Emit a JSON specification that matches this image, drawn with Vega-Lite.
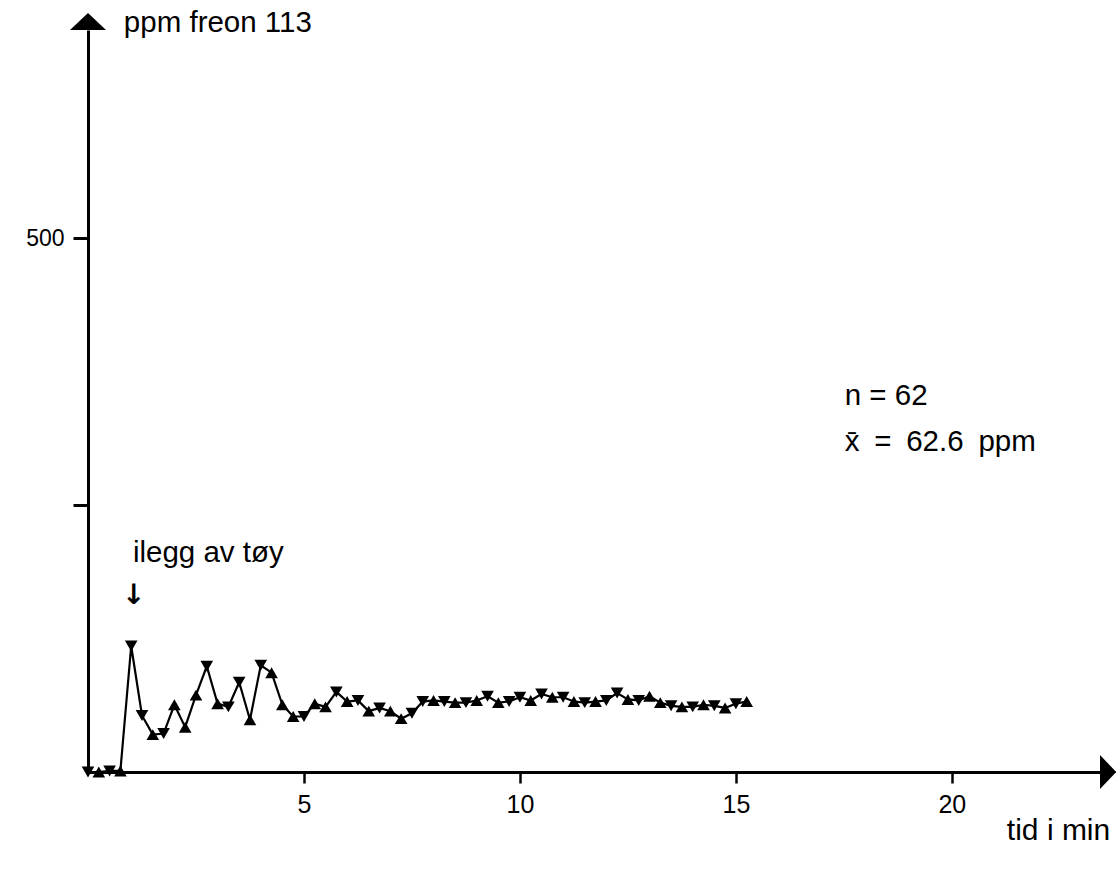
{
  "$schema": "https://vega.github.io/schema/vega-lite/v6.json",
  "width": 1012,
  "height": 742,
  "autosize": {"type": "none"},
  "padding": {"left": 88, "top": 30, "right": 16, "bottom": 98},
  "background": "white",
  "config": {"view": {"stroke": null}, "font": "Liberation Sans"},
  "datasets": {
    "maalinger": [
      {"t": 0.00, "ppm": 0, "m": "ned"},
      {"t": 0.25, "ppm": 0, "m": "opp"},
      {"t": 0.50, "ppm": 1, "m": "ned"},
      {"t": 0.75, "ppm": 1, "m": "opp"},
      {"t": 1.00, "ppm": 118, "m": "ned"},
      {"t": 1.25, "ppm": 53, "m": "ned"},
      {"t": 1.50, "ppm": 35, "m": "opp"},
      {"t": 1.75, "ppm": 36, "m": "ned"},
      {"t": 2.00, "ppm": 63, "m": "opp"},
      {"t": 2.25, "ppm": 42, "m": "opp"},
      {"t": 2.50, "ppm": 72, "m": "opp"},
      {"t": 2.75, "ppm": 99, "m": "ned"},
      {"t": 3.00, "ppm": 64, "m": "opp"},
      {"t": 3.25, "ppm": 61, "m": "ned"},
      {"t": 3.50, "ppm": 84, "m": "ned"},
      {"t": 3.75, "ppm": 49, "m": "opp"},
      {"t": 4.00, "ppm": 100, "m": "ned"},
      {"t": 4.25, "ppm": 93, "m": "opp"},
      {"t": 4.50, "ppm": 63, "m": "opp"},
      {"t": 4.75, "ppm": 52, "m": "opp"},
      {"t": 5.00, "ppm": 52, "m": "ned"},
      {"t": 5.25, "ppm": 64, "m": "opp"},
      {"t": 5.50, "ppm": 61, "m": "opp"},
      {"t": 5.75, "ppm": 75, "m": "ned"},
      {"t": 6.00, "ppm": 66, "m": "opp"},
      {"t": 6.25, "ppm": 67, "m": "ned"},
      {"t": 6.50, "ppm": 57, "m": "opp"},
      {"t": 6.75, "ppm": 60, "m": "ned"},
      {"t": 7.00, "ppm": 57, "m": "opp"},
      {"t": 7.25, "ppm": 50, "m": "opp"},
      {"t": 7.50, "ppm": 55, "m": "ned"},
      {"t": 7.75, "ppm": 66, "m": "ned"},
      {"t": 8.00, "ppm": 67, "m": "opp"},
      {"t": 8.25, "ppm": 66, "m": "ned"},
      {"t": 8.50, "ppm": 65, "m": "opp"},
      {"t": 8.75, "ppm": 65, "m": "ned"},
      {"t": 9.00, "ppm": 67, "m": "opp"},
      {"t": 9.25, "ppm": 71, "m": "ned"},
      {"t": 9.50, "ppm": 65, "m": "opp"},
      {"t": 9.75, "ppm": 66, "m": "ned"},
      {"t": 10.00, "ppm": 70, "m": "ned"},
      {"t": 10.25, "ppm": 67, "m": "opp"},
      {"t": 10.50, "ppm": 73, "m": "ned"},
      {"t": 10.75, "ppm": 70, "m": "opp"},
      {"t": 11.00, "ppm": 70, "m": "ned"},
      {"t": 11.25, "ppm": 66, "m": "opp"},
      {"t": 11.50, "ppm": 65, "m": "ned"},
      {"t": 11.75, "ppm": 66, "m": "opp"},
      {"t": 12.00, "ppm": 67, "m": "ned"},
      {"t": 12.25, "ppm": 74, "m": "ned"},
      {"t": 12.50, "ppm": 68, "m": "opp"},
      {"t": 12.75, "ppm": 67, "m": "ned"},
      {"t": 13.00, "ppm": 71, "m": "opp"},
      {"t": 13.25, "ppm": 65, "m": "opp"},
      {"t": 13.50, "ppm": 62, "m": "ned"},
      {"t": 13.75, "ppm": 61, "m": "opp"},
      {"t": 14.00, "ppm": 61, "m": "ned"},
      {"t": 14.25, "ppm": 63, "m": "opp"},
      {"t": 14.50, "ppm": 62, "m": "ned"},
      {"t": 14.75, "ppm": 60, "m": "opp"},
      {"t": 15.00, "ppm": 64, "m": "ned"},
      {"t": 15.25, "ppm": 66, "m": "opp"}
    ],
    "tekster": [
      {"t": 0.83, "ppm": 702, "tekst": "ppm freon 113"},
      {"t": 17.52, "ppm": 352, "tekst": "n = 62"},
      {"t": 17.52, "ppm": 309, "tekst": "x̄\u2002=\u200262.6\u2002ppm"},
      {"t": 1.04, "ppm": 205, "tekst": "ilegg av tøy"}
    ]
  },
  "layer": [
    {
      "data": {"name": "maalinger"},
      "mark": {"type": "line", "color": "black", "strokeWidth": 2.2},
      "encoding": {
        "x": {
          "field": "t", "type": "quantitative",
          "scale": {"domain": [0, 23.43], "nice": false, "zero": false},
          "axis": {
            "values": [5, 10, 15, 20],
            "grid": false,
            "domainColor": "black", "domainWidth": 3,
            "tickColor": "black", "tickWidth": 2.5, "tickSize": 11,
            "labelColor": "black", "labelFontSize": 25, "labelPadding": 9,
            "title": null
          }
        },
        "y": {
          "field": "ppm", "type": "quantitative",
          "scale": {"domain": [0, 695], "nice": false},
          "axis": {
            "values": [250, 500],
            "labelExpr": "datum.value == 500 ? '500' : ''",
            "grid": false,
            "domainColor": "black", "domainWidth": 3,
            "tickColor": "black", "tickWidth": 3, "tickSize": 15,
            "labelColor": "black", "labelFontSize": 23, "labelPadding": 9,
            "title": null
          }
        }
      }
    },
    {
      "data": {"name": "maalinger"},
      "mark": {"type": "point", "filled": true, "color": "black", "opacity": 1, "size": 160},
      "encoding": {
        "x": {"field": "t", "type": "quantitative"},
        "y": {"field": "ppm", "type": "quantitative"},
        "shape": {
          "field": "m", "type": "nominal",
          "scale": {"domain": ["ned", "opp"], "range": ["triangle-down", "triangle-up"]},
          "legend": null
        }
      }
    },
    {
      "data": {"values": [{"t": 0, "ppm": 695}]},
      "mark": {"type": "point", "filled": true, "color": "black", "opacity": 1, "size": 1296, "shape": "M-1,0L1,0L0,-0.95Z"},
      "encoding": {
        "x": {"field": "t", "type": "quantitative"},
        "y": {"field": "ppm", "type": "quantitative"}
      }
    },
    {
      "data": {"values": [{"t": 23.43, "ppm": 0}]},
      "mark": {"type": "point", "filled": true, "color": "black", "opacity": 1, "size": 1156, "shape": "M0,-1L0.95,0L0,1Z"},
      "encoding": {
        "x": {"field": "t", "type": "quantitative"},
        "y": {"field": "ppm", "type": "quantitative"}
      }
    },
    {
      "data": {"name": "tekster"},
      "mark": {"type": "text", "align": "left", "baseline": "middle", "fontSize": 29.5, "color": "black"},
      "encoding": {
        "x": {"field": "t", "type": "quantitative"},
        "y": {"field": "ppm", "type": "quantitative"},
        "text": {"field": "tekst"}
      }
    },
    {
      "data": {"values": [{"t": 22.47, "ppm": -55, "tekst": "tid i min"}]},
      "mark": {"type": "text", "align": "center", "baseline": "middle", "fontSize": 30, "color": "black"},
      "encoding": {
        "x": {"field": "t", "type": "quantitative"},
        "y": {"field": "ppm", "type": "quantitative"},
        "text": {"field": "tekst"}
      }
    },
    {
      "data": {"values": [{"t": 1.06, "ppm": 165, "tekst": "↓"}]},
      "mark": {"type": "text", "align": "center", "baseline": "middle", "fontSize": 28, "font": "DejaVu Sans", "fontWeight": "bold", "color": "black"},
      "encoding": {
        "x": {"field": "t", "type": "quantitative"},
        "y": {"field": "ppm", "type": "quantitative"},
        "text": {"field": "tekst"}
      }
    }
  ]
}
